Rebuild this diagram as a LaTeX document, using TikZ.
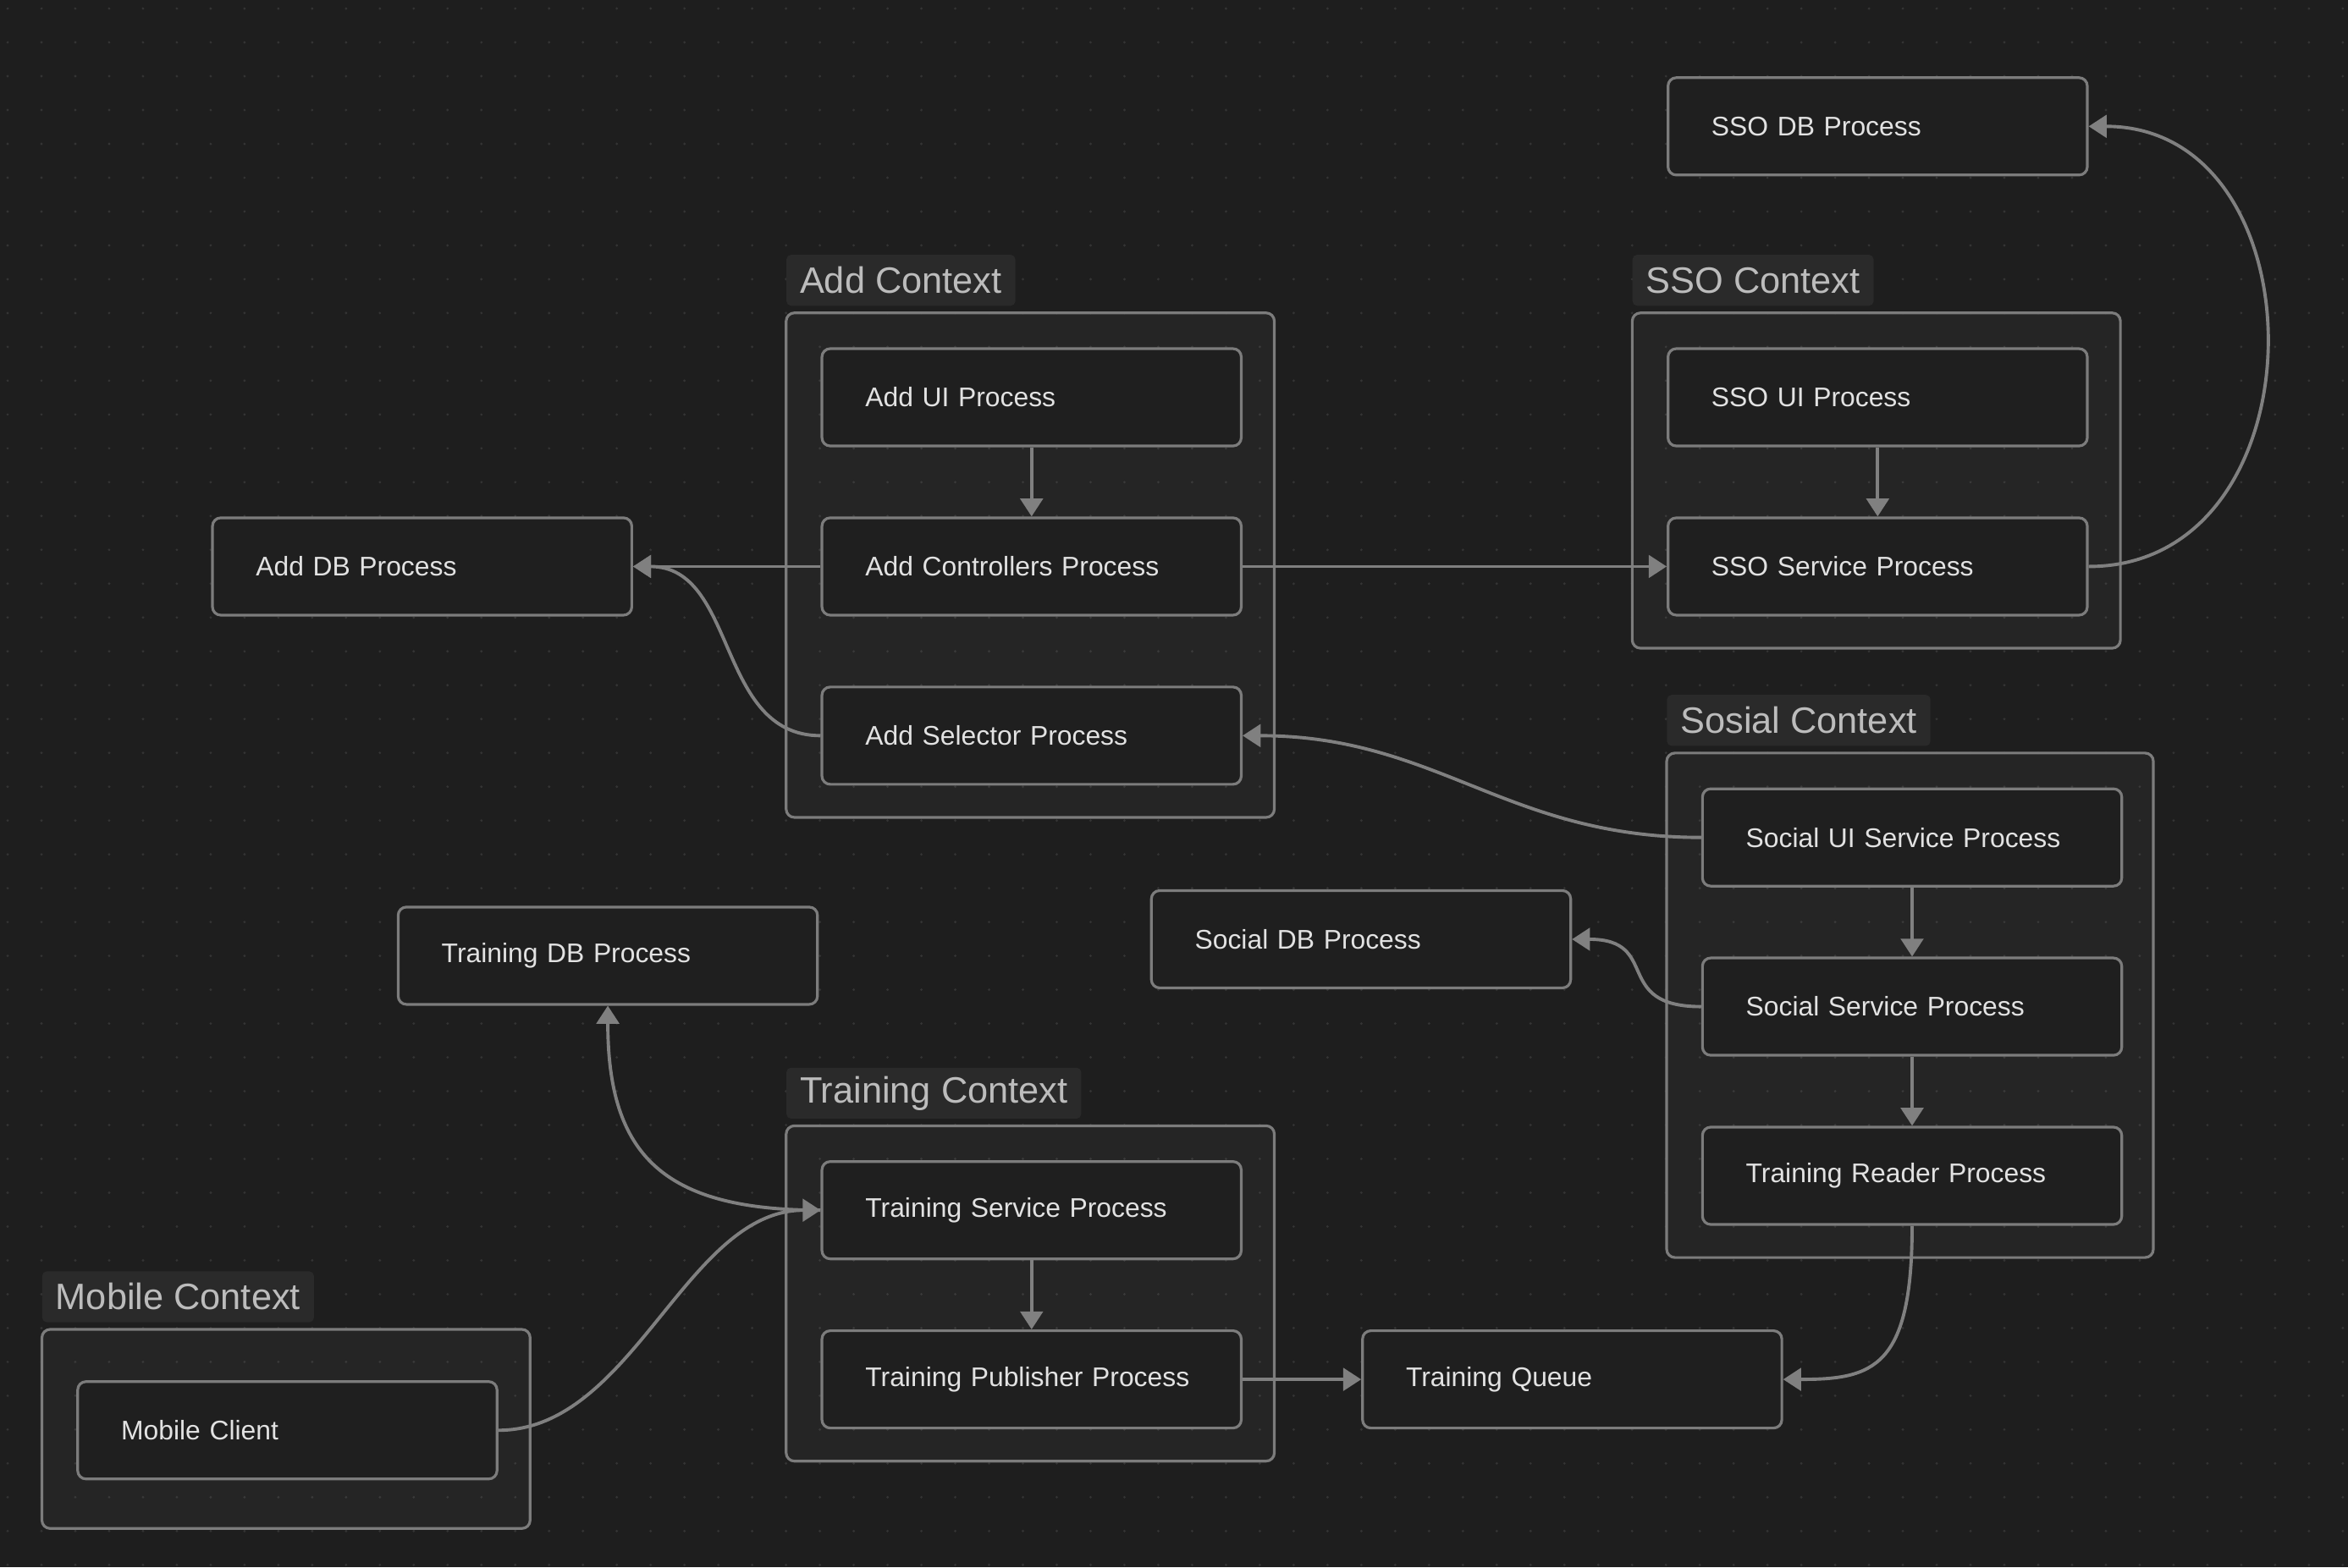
\documentclass[tikz,border=0pt]{standalone}
\usepackage{fontspec}
\setmainfont{Liberation Sans}
\usetikzlibrary{arrows.meta}

\definecolor{bgcol}{RGB}{30,30,30}
\definecolor{dotcol}{RGB}{52,52,52}
\definecolor{edgecol}{RGB}{124,124,124}
\definecolor{linkcol}{RGB}{128,128,128}
\definecolor{boxcol}{RGB}{31,31,31}
\definecolor{txtcol}{RGB}{226,226,226}
\definecolor{lblcol}{RGB}{42,42,42}
\definecolor{lbltxt}{RGB}{188,188,188}

\tikzset{
  proc/.style={draw=edgecol, line width=1.8pt, rounded corners=5.5pt, fill=boxcol,
    anchor=north west, minimum height=65pt, text width=222pt, inner xsep=29pt,
    align=left, text=txtcol, font=\fontsize{18}{21}\selectfont},
  ctx/.style={draw=edgecol, line width=1.8pt, rounded corners=5.5pt, fill=white, fill opacity=0.03},
  ctxlabel/.style={anchor=north west, fill=lblcol, rounded corners=3pt, minimum height=34pt,
    inner xsep=9pt, inner ysep=0pt, text=lbltxt, font=\fontsize{24.5}{28}\selectfont},
  link/.style={draw=linkcol, line width=2.2pt, -{Triangle[length=12pt,width=15pt]}}
}

\begin{document}
\begin{tikzpicture}[x=1pt, y=-1pt]
%background
\fill[bgcol] (0,0) rectangle (1568,1047);
\useasboundingbox (0,0) rectangle (1568,1047);
\foreach \i in {0,...,69}
  \foreach \j in {0,...,46}
    \fill[dotcol] ({5.1+22.6*\i},{5.7+22.6*\j}) circle (0.9pt);

%context frames
\draw[ctx] (525,209) rectangle (851,546);
\draw[ctx] (1090,209) rectangle (1416,433);
\draw[ctx] (1113,503) rectangle (1438,840);
\draw[ctx] (525,752) rectangle (851,976);
\draw[ctx] (28,888) rectangle (354,1021);

\node[ctxlabel] (addlbl) at (525,170) {Add Context};
\node[ctxlabel] (ssolbl) at (1090,170) {SSO Context};
\node[ctxlabel] (soclbl) at (1113,464) {Sosial Context};
\node[ctxlabel] (trnlbl) at (525,713) {Training Context};
\node[ctxlabel] (moblbl) at (28,849) {Mobile Context};

%processes
\node[proc] (ssodb) at (1113,51) {SSO DB Process};
\node[proc] (addui) at (548,232) {Add UI Process};
\node[proc] (addctl) at (548,345) {Add Controllers Process};
\node[proc] (addsel) at (548,458) {Add Selector Process};
\node[proc] (adddb) at (141,345) {Add DB Process};
\node[proc] (ssoui) at (1113,232) {SSO UI Process};
\node[proc] (ssosvc) at (1113,345) {SSO Service Process};
\node[proc] (socui) at (1136,526) {Social UI Service Process};
\node[proc] (socsvc) at (1136,639) {Social Service Process};
\node[proc] (trnreader) at (1136,752) {Training Reader Process};
\node[proc] (socdb) at (768,594) {Social DB Process};
\node[proc] (trndb) at (265,605) {Training DB Process};
\node[proc] (trnsvc) at (548,775) {Training Service Process};
\node[proc] (trnpub) at (548,888) {Training Publisher Process};
\node[proc] (trnqueue) at (909,888) {Training Queue};
\node[proc] (mobile) at (51,922) {Mobile Client};

%links
\draw[link] (addui) -- (addctl);
\draw[link] (addctl.west) -- (adddb.east);
\draw[link] (addsel.west) .. controls +(-70,0) and +(70,0) .. (adddb.east);
\draw[link] (addctl.east) -- (ssosvc.west);
\draw[link] (ssoui) -- (ssosvc);
\draw[link] (ssosvc.east) .. controls +(158,0) and +(158,0) .. (ssodb.east);
\draw[link] (socui.west) .. controls +(-130,0) and +(130,0) .. (addsel.east);
\draw[link] (socui) -- (socsvc);
\draw[link] (socsvc.west) .. controls +(-60,0) and +(60,0) .. (socdb.east);
\draw[link] (socsvc) -- (trnreader);
\draw[link] (trnreader.south) .. controls +(0,95) and +(60,0) .. (trnqueue.east);
\draw[link] (trnsvc) -- (trnpub);
\draw[link] (trnpub.east) -- (trnqueue.west);
\draw[link] (trnsvc.west) .. controls +(-105,0) and +(0,100) .. (trndb.south);
\draw[link] (mobile.east) .. controls +(90,0) and +(-90,0) .. (trnsvc.west);

\end{tikzpicture}
\end{document}
